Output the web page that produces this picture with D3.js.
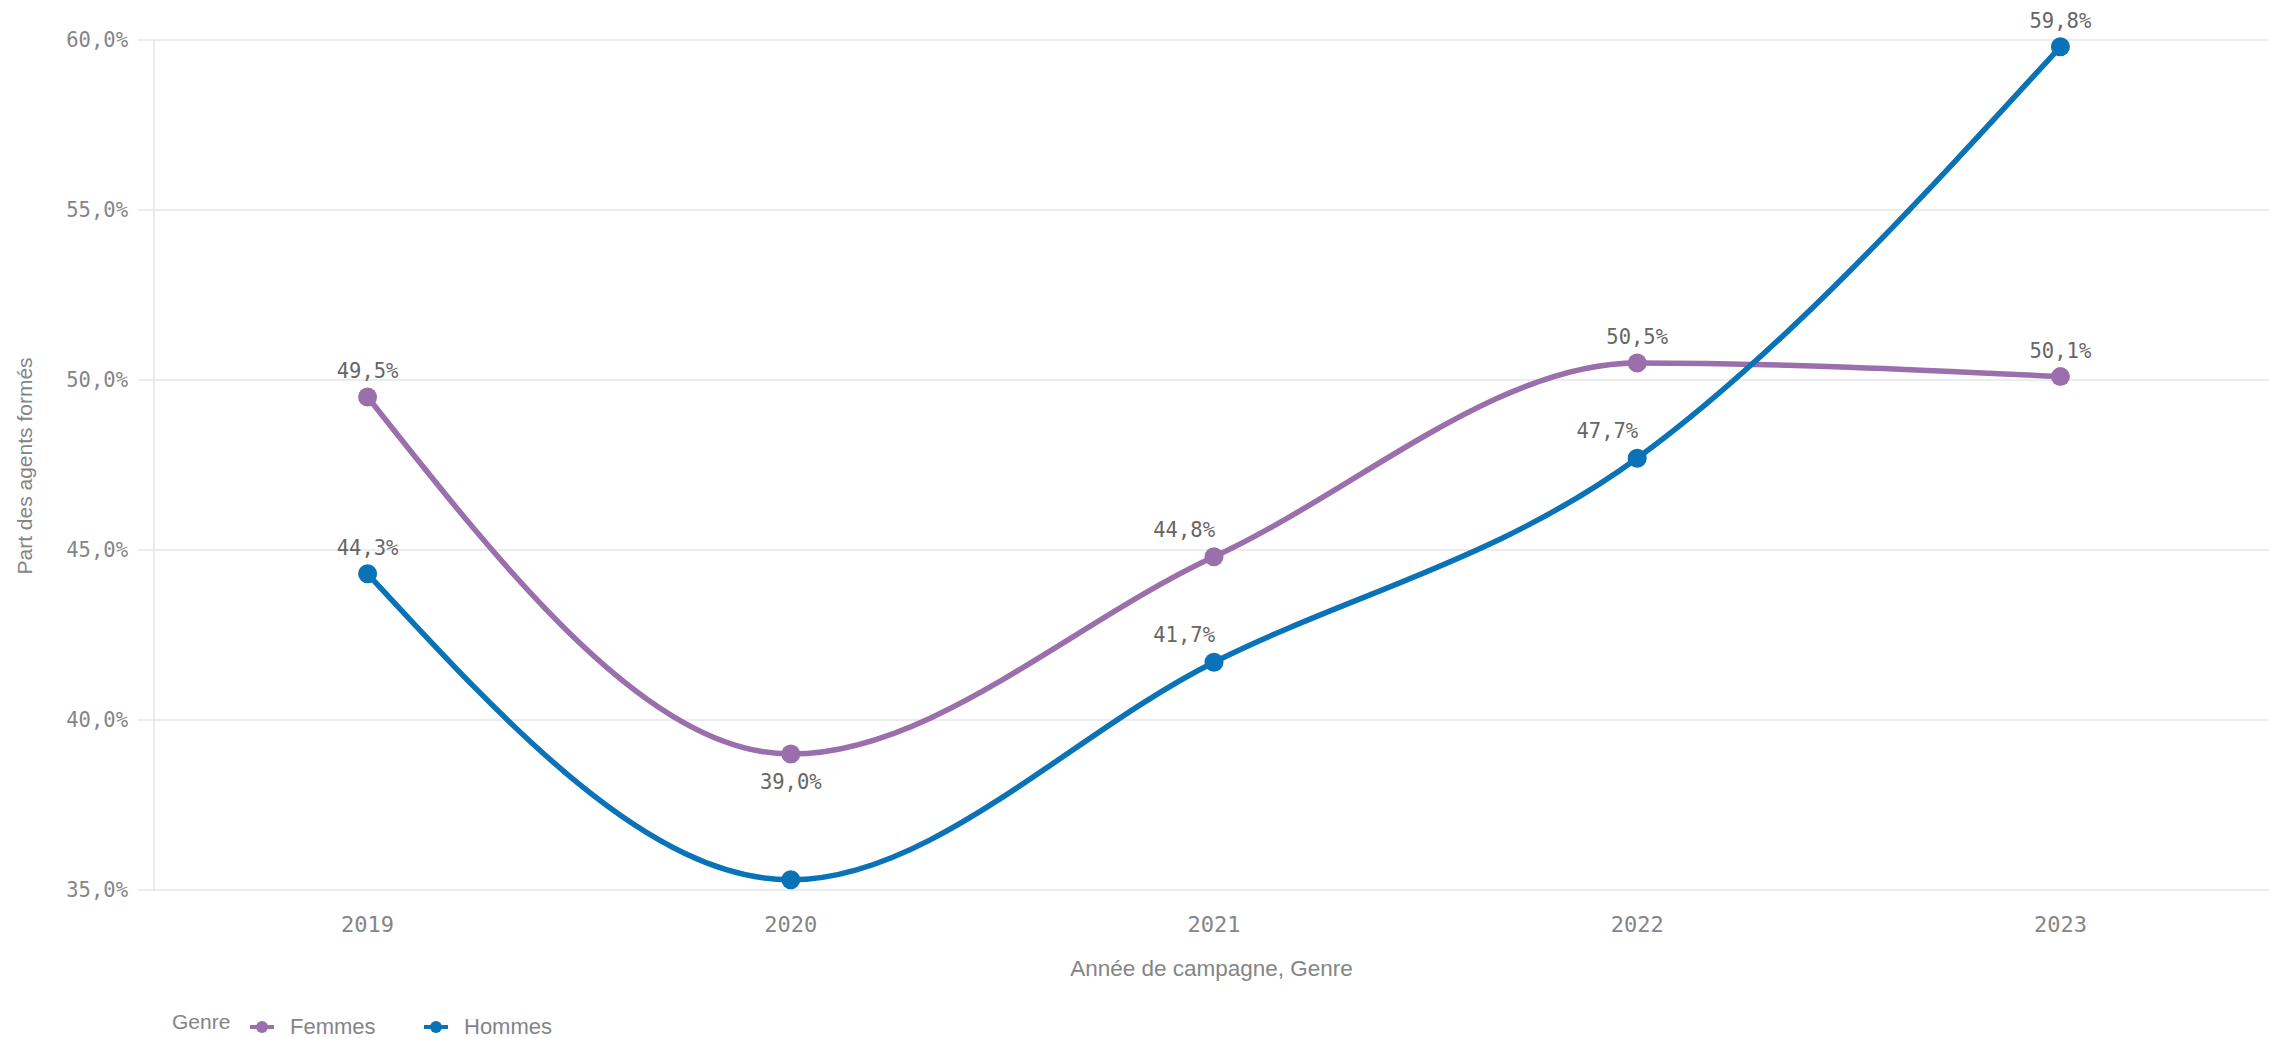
<!DOCTYPE html>
<html>
<head>
<meta charset="utf-8">
<script src="https://cdn.jsdelivr.net/npm/d3@7"></script>
<style>
  html, body { margin: 0; padding: 0; background: #fff; }
  svg { display: block; }
</style>
</head>
<body>
<svg id="chart" width="2269" height="1038"></svg>
<script>
// ---- data ----
const years = ["2019", "2020", "2021", "2022", "2023"];
const femmes = [49.5, 39.0, 44.8, 50.5, 50.1];
const hommes = [44.3, 35.3, 41.7, 47.7, 59.8];
const seriesNames = ["Femmes", "Hommes"];
const seriesColors = ["#9a6fab", "#0a72b6"];
const yTicks = [35, 40, 45, 50, 55, 60];
const yTitle = "Part des agents formés";
const xTitle = "Année de campagne, Genre";
const legendTitle = "Genre";

(function () {
const fmt = v => v.toFixed(1).replace(".", ",") + "%";

const svg = d3.select("#chart");
const plotLeft = 154, plotRight = 2269, plotTop = 40, plotBottom = 890;

const x = d3.scalePoint().domain(years).range([156, 2272]).padding(0.5);
const y = d3.scaleLinear().domain([35, 60]).range([plotBottom, plotTop]);

const gridColor = "#e6e6e6";
const axisText = "#858585";
const labelText = "#666666";
const monoFont = "'DejaVu Sans Mono', monospace";
const sansFont = "'Liberation Sans', Arial, sans-serif";

// gridlines
svg.append("g").selectAll("line").data(yTicks).join("line")
  .attr("x1", plotLeft - 16).attr("x2", plotRight)
  .attr("y1", d => y(d)).attr("y2", d => y(d))
  .attr("stroke", gridColor).attr("stroke-width", 1.5);

// y axis line
svg.append("line")
  .attr("x1", plotLeft).attr("x2", plotLeft).attr("y1", plotTop).attr("y2", plotBottom)
  .attr("stroke", gridColor).attr("stroke-width", 1.5);

// y tick labels
svg.append("g").selectAll("text").data(yTicks).join("text")
  .attr("x", 128).attr("y", d => y(d)).attr("dy", "0.36em")
  .attr("text-anchor", "end")
  .attr("font-family", monoFont).attr("font-size", 20.5)
  .attr("fill", axisText)
  .text(d => fmt(d));

// x tick labels
svg.append("g").selectAll("text").data(years).join("text")
  .attr("x", d => x(d)).attr("y", 932)
  .attr("text-anchor", "middle")
  .attr("font-family", monoFont).attr("font-size", 22)
  .attr("fill", axisText)
  .text(d => d);

// axis titles
svg.append("text")
  .attr("x", (plotLeft + plotRight) / 2).attr("y", 976)
  .attr("text-anchor", "middle")
  .attr("font-family", sansFont).attr("font-size", 22.5)
  .attr("fill", axisText)
  .text(xTitle);

svg.append("text")
  .attr("transform", `translate(32, 466) rotate(-90)`)
  .attr("text-anchor", "middle")
  .attr("font-family", sansFont).attr("font-size", 21)
  .attr("fill", axisText)
  .text(yTitle);

// lines
const seriesData = [femmes, hommes];
const line = d3.line()
  .x((d, i) => x(years[i]))
  .y(d => y(d))
  .curve(d3.curveMonotoneX);

seriesData.forEach((vals, s) => {
  svg.append("path")
    .datum(vals)
    .attr("d", line)
    .attr("fill", "none")
    .attr("stroke", seriesColors[s])
    .attr("stroke-width", 5.5)
    .attr("stroke-linejoin", "round")
    .attr("stroke-linecap", "round");
});

seriesData.forEach((vals, s) => {
  svg.append("g").selectAll("circle").data(vals).join("circle")
    .attr("cx", (d, i) => x(years[i]))
    .attr("cy", d => y(d))
    .attr("r", 9.5)
    .attr("fill", seriesColors[s]);
});

// data labels: placement derived from the local shape of each series
seriesData.forEach((vals, s) => {
  vals.forEach((v, i) => {
    const prev = i > 0 ? vals[i - 1] : null;
    const next = i < vals.length - 1 ? vals[i + 1] : null;
    const px = x(years[i]), py = y(v);
    let anchor = "middle", lx = px, ly = py - 19;
    if (prev !== null && next !== null) {
      if (prev > v && next > v) {           // local minimum: label below
        ly = py + 35;
      } else if (prev < v && next > v) {    // rising through: label above-left
        anchor = "end"; lx = px + 1; ly = py - 20;
      }
    }
    if (ly > plotBottom) return;            // no room inside the plot
    svg.append("text")
      .attr("x", lx).attr("y", ly)
      .attr("text-anchor", anchor)
      .attr("font-family", monoFont).attr("font-size", 20.5)
      .attr("fill", labelText)
      .text(fmt(v));
  });
});

// legend
const lg = svg.append("g");
lg.append("text")
  .attr("x", 172).attr("y", 1029)
  .attr("font-family", sansFont).attr("font-size", 21)
  .attr("fill", axisText)
  .text(legendTitle);
const legendX = [262, 436];
seriesNames.forEach((name, s) => {
  const cx = legendX[s];
  lg.append("line")
    .attr("x1", cx - 12).attr("x2", cx + 12)
    .attr("y1", 1027).attr("y2", 1027)
    .attr("stroke", seriesColors[s]).attr("stroke-width", 4);
  lg.append("circle")
    .attr("cx", cx).attr("cy", 1027).attr("r", 6)
    .attr("fill", seriesColors[s]);
  lg.append("text")
    .attr("x", cx + 28).attr("y", 1034)
    .attr("font-family", sansFont).attr("font-size", 22)
    .attr("fill", axisText)
    .text(name);
});
})();
</script>
</body>
</html>
